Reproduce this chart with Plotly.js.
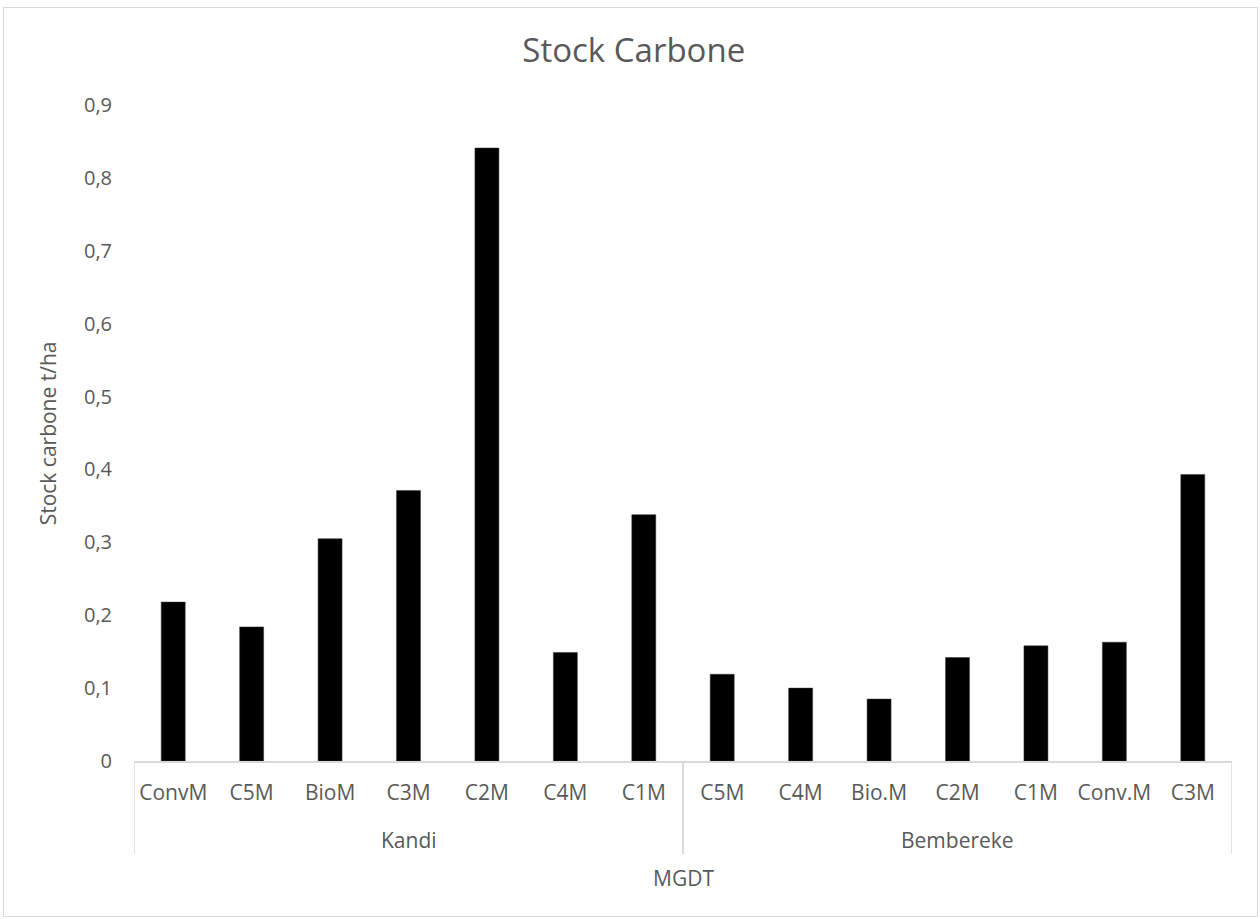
<!DOCTYPE html>
<html>
<head>
<meta charset="utf-8">
<script src="https://cdn.plot.ly/plotly-3.0.1.min.js"></script>
<style>
body{margin:0;padding:0;background:#fff;}
#chart{width:1260px;height:919px;}
#frame{position:absolute;left:3px;top:7px;width:1253px;height:908px;border:1px solid #d9d9d9;pointer-events:none;}
</style>
</head>
<body>
<div id="chart"></div>
<div id="frame"></div>
<script>
const groups = ["Kandi","Kandi","Kandi","Kandi","Kandi","Kandi","Kandi",
                "Bembereke","Bembereke","Bembereke","Bembereke","Bembereke","Bembereke","Bembereke"];
const categories = ["ConvM","C5M","BioM","C3M","C2M","C4M","C1M",
                    "C5M","C4M","Bio.M","C2M","C1M","Conv.M","C3M"];
const stockValues = [0.218,0.184,0.305,0.371,0.841,0.149,0.338,
                     0.119,0.100,0.085,0.142,0.158,0.163,0.393];
const groupNames = ["Kandi","Bembereke"];

const fontFam = "Open Sans, Liberation Sans, sans-serif";
const grey = "#595959";
const lineGrey = "#d9d9d9";

// unique keys so that repeated category names keep their own slot
const keys = categories.map((c, i) => groups[i] + "|" + c);

const trace = {
  type: "bar",
  x: keys,
  y: stockValues,
  marker: {color: "#000000", line: {color: "#3a3a3a", width: 0.5}},
  hoverinfo: "skip"
};

const annotations = [];
const shapes = [];
const divDepth = -(854 - 761) / 656;
groupNames.forEach(g => {
  const idx = groups.map((v, i) => v === g ? i : -1).filter(i => i >= 0);
  const first = idx[0], last = idx[idx.length - 1];
  annotations.push({
    text: g, xref: "x", yref: "paper",
    x: (first + last) / 2, y: -(840 - 761) / 656,
    xanchor: "center", yanchor: "middle", showarrow: false,
    font: {family: fontFam, size: 21, color: grey}
  });
  [first - 0.5, last + 0.5].forEach(xv => shapes.push({
    type: "line", xref: "x", yref: "paper",
    x0: xv, x1: xv, y0: 0, y1: divDepth,
    line: {color: lineGrey, width: 1.5}
  }));
});

annotations.push(
  {text: "Stock carbone t/ha", xref: "paper", yref: "paper", x: -0.078, y: 0.5,
   xanchor: "center", yanchor: "middle", textangle: -90, showarrow: false,
   font: {family: fontFam, size: 21, color: grey}},
  {text: "MGDT", xref: "paper", yref: "paper", x: 0.5, y: -(878 - 761) / 656,
   xanchor: "center", yanchor: "middle", showarrow: false,
   font: {family: fontFam, size: 21, color: grey}}
);

const layout = {
  width: 1260, height: 919,
  margin: {l: 134, r: 28, t: 105, b: 158},
  paper_bgcolor: "#ffffff", plot_bgcolor: "#ffffff",
  separators: ", ",
  bargap: 0.694,
  showlegend: false,
  font: {family: fontFam, color: grey, size: 20},
  title: {text: "Stock Carbone", xref: "container", x: 0.503, xanchor: "center",
          y: 1 - 50 / 919, yanchor: "middle",
          font: {family: fontFam, size: 33, color: grey}},
  xaxis: {
    type: "category",
    range: [-0.5, keys.length - 0.5],
    tickmode: "array", tickvals: keys, ticktext: categories,
    showline: true, linecolor: lineGrey, linewidth: 1.5,
    showgrid: false, zeroline: false,
    ticks: "", ticklabelstandoff: 12, tickangle: 0,
    tickfont: {family: fontFam, size: 21, color: grey},
    automargin: false, fixedrange: true
  },
  yaxis: {
    range: [0, 0.9], dtick: 0.1, tick0: 0,
    showgrid: false, zeroline: false, showline: false,
    ticks: "", ticklabelstandoff: 21,
    tickfont: {family: fontFam, size: 20, color: grey},
    automargin: false, fixedrange: true
  },
  annotations: annotations,
  shapes: shapes
};

Plotly.newPlot("chart", [trace], layout, {displayModeBar: false, staticPlot: true});
</script>
</body>
</html>
